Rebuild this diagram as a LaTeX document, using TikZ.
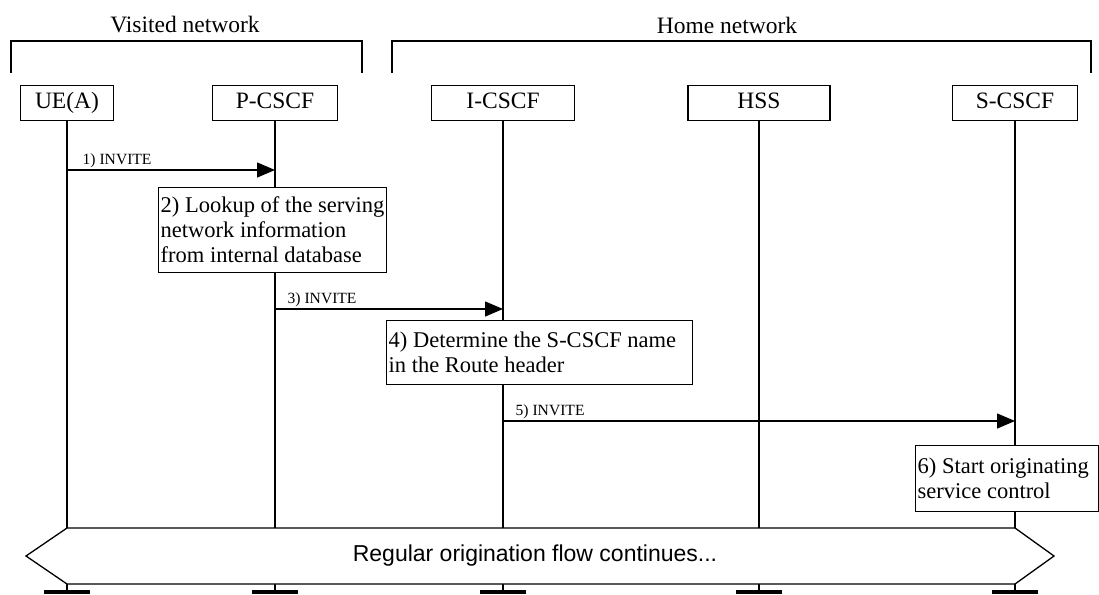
\documentclass[tikz,border=0pt]{standalone}
\usepackage{fontspec}
\setmainfont{Liberation Serif}
\newfontfamily\arialfont{Liberation Sans}
\usetikzlibrary{arrows.meta}
\begin{document}
\begin{tikzpicture}[x=1pt,y=-1pt,line width=1.3pt,
  entity/.style={draw,fill=white,minimum height=35pt,inner sep=0pt,anchor=north,
    text height=16pt,text depth=5pt,font=\fontsize{23.5}{26}\selectfont},
  action/.style={draw,fill=white,anchor=north west,inner xsep=2pt,inner ysep=0pt,
    align=flush left,font=\fontsize{22.5}{25}\selectfont},
  title/.style={font=\fontsize{23.5}{26}\selectfont,inner sep=0pt},
  msg/.style={-{Triangle[length=18pt,width=15pt]}},
  msglabel/.style={anchor=base west,inner sep=0pt,font=\fontsize{15.6}{18}\selectfont},
  bar/.style={line width=4pt}]
\useasboundingbox (0,0) rectangle (1099,594);
% network titles and brackets
\node[title] (vt) at (185,25) {Visited network};
\node[title] (ht) at (727,25) {Home network};
\draw (11,73) -- (11,41) -- (362,41) -- (362,73);
\draw (392,73) -- (392,41) -- (1091,41) -- (1091,73);
% entities
\node[entity,minimum width=93pt] (ue) at (67,85) {UE(A)};
\node[entity,minimum width=125pt] (pc) at (275,85) {P-CSCF};
\node[entity,minimum width=143pt] (ic) at (503,85) {I-CSCF};
\node[entity,minimum width=142pt] (hss) at (759,85) {HSS};
\node[entity,minimum width=125pt] (sc) at (1015,85) {S-CSCF};
% lifeline coordinates
\coordinate (htop) at (0,528);
\coordinate (hbot) at (0,584);
\coordinate (lend) at (0,592);
\coordinate (uetop) at (ue.south |- htop);
\coordinate (uebot) at (ue.south |- hbot);
\coordinate (sctop) at (sc.south |- htop);
\coordinate (scbot) at (sc.south |- hbot);
\coordinate (hl) at (26,556);
\coordinate (hr) at (1054,556);
\foreach \n in {ue,pc,ic,hss,sc}{
  \draw (\n.south) -- (\n.south |- htop);
  \draw (\n.south |- hbot) -- (\n.south |- lend);
  \draw[bar] ([xshift=-23pt]\n.south |- lend) -- ([xshift=23pt]\n.south |- lend);
}
% messages
\coordinate (m1) at (0,170);
\coordinate (m3) at (0,309);
\coordinate (m5) at (0,421);
\draw[msg] (ue.south |- m1) -- (pc.south |- m1);
\node[msglabel] (l1) at ([xshift=15pt,yshift=6pt]ue.south |- m1) {1) INVITE};
\draw[msg] (pc.south |- m3) -- (ic.south |- m3);
\node[msglabel] (l3) at ([xshift=12pt,yshift=6pt]pc.south |- m3) {3) INVITE};
\draw[msg] (ic.south |- m5) -- (sc.south |- m5);
\node[msglabel] (l5) at ([xshift=12pt,yshift=6pt]ic.south |- m5) {5) INVITE};
% actions
\node[action,minimum width=228pt,minimum height=85pt,text width=224pt] (a2) at (158,187)
  {2) Lookup of the serving\\network information\\from internal database};
\node[action,minimum width=306pt,minimum height=64pt,text width=302pt] (a4) at (386,320)
  {4) Determine the S-CSCF name\\in the Route header};
\node[action,minimum width=183pt,minimum height=66pt,text width=179pt] (a6) at (915,445)
  {6) Start originating\\service control};
% continuation hexagon
\draw[fill=white] (uetop) -- (sctop) -- (hr) -- (scbot) -- (uebot) -- (hl) -- cycle;
\node[font=\arialfont\fontsize{23}{26}\selectfont,inner sep=0pt] (cont) at (535,556)
  {Regular origination flow continues...};
\end{tikzpicture}
\end{document}
